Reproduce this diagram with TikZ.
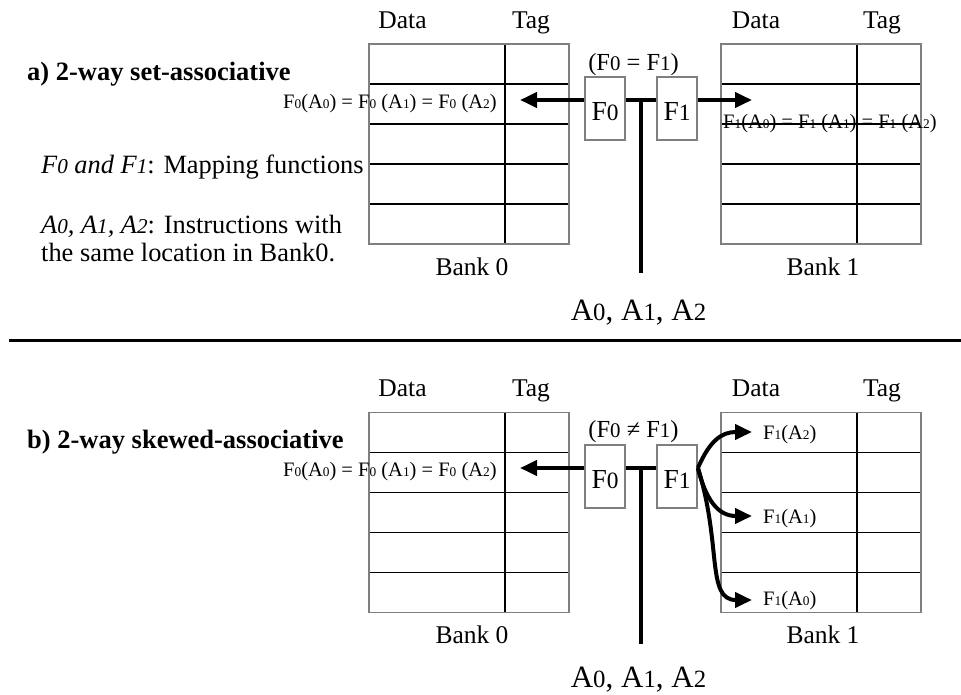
\documentclass[tikz,border=0pt]{standalone}
\usepackage{fontspec}
\usepackage{graphicx}
\setmainfont{Liberation Serif}
\usetikzlibrary{arrows.meta}
% small digit on the baseline (used as a pseudo-subscript)
\newcommand\dg[2][0.8]{\scalebox{#1}{#2}}
\newcommand\fcol{\fontsize{25.5}{30}\selectfont}
\newcommand\fhd{\fontsize{26.5}{30}\selectfont\bfseries}
\newcommand\fdesc{\fontsize{26.4}{28}\selectfont}
\newcommand\flab{\fontsize{20.5}{24}\selectfont}
\newcommand\ffn{\fontsize{27.5}{30}\selectfont}
\newcommand\feq{\fontsize{24.5}{28}\selectfont}
\newcommand\fadr{\fontsize{31}{34}\selectfont}
\definecolor{boxgray}{HTML}{7F7F7F}
\begin{document}
\begin{tikzpicture}[x=1pt,y=-1pt,
  txt/.style={inner sep=0pt,anchor=base},
  txtw/.style={inner sep=0pt,anchor=base west},
  fbox/.style={draw=boxgray,line width=1.8pt,minimum width=40pt,minimum height=63.3pt,
               inner sep=0pt,text height=24pt,text depth=0pt,font=\ffn},
  frame/.style={draw=boxgray,line width=1.8pt},
  cell/.style={draw=black,line width=1.8pt},
  wire/.style={line width=4pt},
  arr/.style={line width=4pt,-{Triangle[length=17pt,width=15pt]}}]
\useasboundingbox (0,0) rectangle (961,694);

% ---------- the four banks (5 rows, Data | Tag) ----------
\foreach \bx/\by in {369/44,721/44,369/412.5,721/412.5}{
  \foreach \i in {1,...,4}
    \draw[cell] (\bx,\by+40*\i) -- (\bx+200,\by+40*\i);
  \draw[cell] (\bx+136,\by) -- (\bx+136,\by+200);
  \draw[frame] (\bx,\by) rectangle (\bx+200,\by+200);
}

% ---------- column and bank captions ----------
\foreach \dy in {0,368.5}{
  \node[txt,font=\fcol] at (402.5,28+\dy) {Data};
  \node[txt,font=\fcol] at (531,28+\dy) {Tag};
  \node[txt,font=\fcol] at (756,28+\dy) {Data};
  \node[txt,font=\fcol] at (882,28+\dy) {Tag};
  \node[txt,font=\fcol] at (472,275+\dy) {Bank 0};
  \node[txt,font=\fcol] at (823,275+\dy) {Bank 1};
}

% ---------- a) set-associative ----------
\node[txtw,font=\fhd] (ha) at (27,80) {a) 2-way set-associative};
\node[txtw,font=\fdesc] (da) at (41,173) {\textit{F\dg{0} and F\dg{1}}: Mapping functions};
\node[txtw,font=\fdesc] (db) at (41,233) {\textit{A\dg{0}, A\dg{1}, A\dg{2}}: Instructions with};
\node[txtw,font=\fdesc] (dc) at (41,261) {the same location in Bank0.};

\node[fbox] (f0a) at (605,108.3) {F\dg[0.85]{0}};
\node[fbox] (f1a) at (677,108.3) {F\dg[0.85]{1}};
\node[txt,font=\feq] (eqa) at (633.5,70) {(F\dg[0.85]{0} = F\dg[0.85]{1})};
\coordinate (huba) at (641,100);
\coordinate (foota) at (641,273);
\coordinate (tipla) at (520,100);
\coordinate (tipra) at (752,100);
\draw[wire] (f0a.east |- huba) -- (f1a.west |- huba);
\draw[wire] (huba) -- (foota);
\draw[arr] (f0a.west |- tipla) -- (tipla);
\draw[arr] (f1a.east |- tipra) -- (tipra);
\node[txtw,font=\flab] (la) at (283,108)
  {F\dg[0.65]{0}(A\dg[0.65]{0}) = F\dg[0.65]{0} (A\dg[0.65]{1}) = F\dg[0.65]{0} (A\dg[0.65]{2})};
\node[txtw,font=\flab] (ra) at (723,128)
  {F\dg[0.65]{1}(A\dg[0.65]{0}) = F\dg[0.65]{1} (A\dg[0.65]{1}) = F\dg[0.65]{1} (A\dg[0.65]{2})};
\node[txt,font=\fadr] (adra) at (638.5,320) {A\dg{0}, A\dg{1}, A\dg{2}};

% ---------- separator ----------
\draw[line width=3.3pt] (9,340.5) -- (961,340.5);

% ---------- b) skewed-associative ----------
\node[txtw,font=\fhd] (hb) at (27,448) {b) 2-way skewed-associative};

\node[fbox] (f0b) at (605,476.3) {F\dg[0.85]{0}};
\node[fbox] (f1b) at (677,476.3) {F\dg[0.85]{1}};
\node[txt,font=\feq] (eqb) at (633.5,437.5) {(F\dg[0.85]{0} ≠ F\dg[0.85]{1})};
\coordinate (hubb) at (641,468);
\coordinate (footb) at (641,644);
\coordinate (tiplb) at (520,468);
\coordinate (srcb) at (697,468);
\coordinate (tip2) at (752,432);
\coordinate (tip1) at (752,516);
\coordinate (tip0) at (752,600);
\draw[wire] (f0b.east |- hubb) -- (f1b.west |- hubb);
\draw[wire] (hubb) -- (footb);
\draw[arr] (f0b.west |- tiplb) -- (tiplb);
\draw[arr] (f1b.east |- srcb) .. controls (710,440) and (722,432) .. (tip2);
\draw[arr] (f1b.east |- srcb) .. controls (706,500) and (718,516) .. (tip1);
\draw[arr] (f1b.east |- srcb) .. controls (722,545) and (706,600) .. (tip0);
\node[txtw,font=\flab] (lb) at (283,476)
  {F\dg[0.65]{0}(A\dg[0.65]{0}) = F\dg[0.65]{0} (A\dg[0.65]{1}) = F\dg[0.65]{0} (A\dg[0.65]{2})};
\node[txtw,font=\flab] (m2) at (763,439) {F\dg[0.65]{1}(A\dg[0.65]{2})};
\node[txtw,font=\flab] (m1) at (763,523) {F\dg[0.65]{1}(A\dg[0.65]{1})};
\node[txtw,font=\flab] (m0) at (763,605) {F\dg[0.65]{1}(A\dg[0.65]{0})};
\node[txt,font=\fadr] (adrb) at (638.5,687) {A\dg{0}, A\dg{1}, A\dg{2}};
\end{tikzpicture}
\end{document}
